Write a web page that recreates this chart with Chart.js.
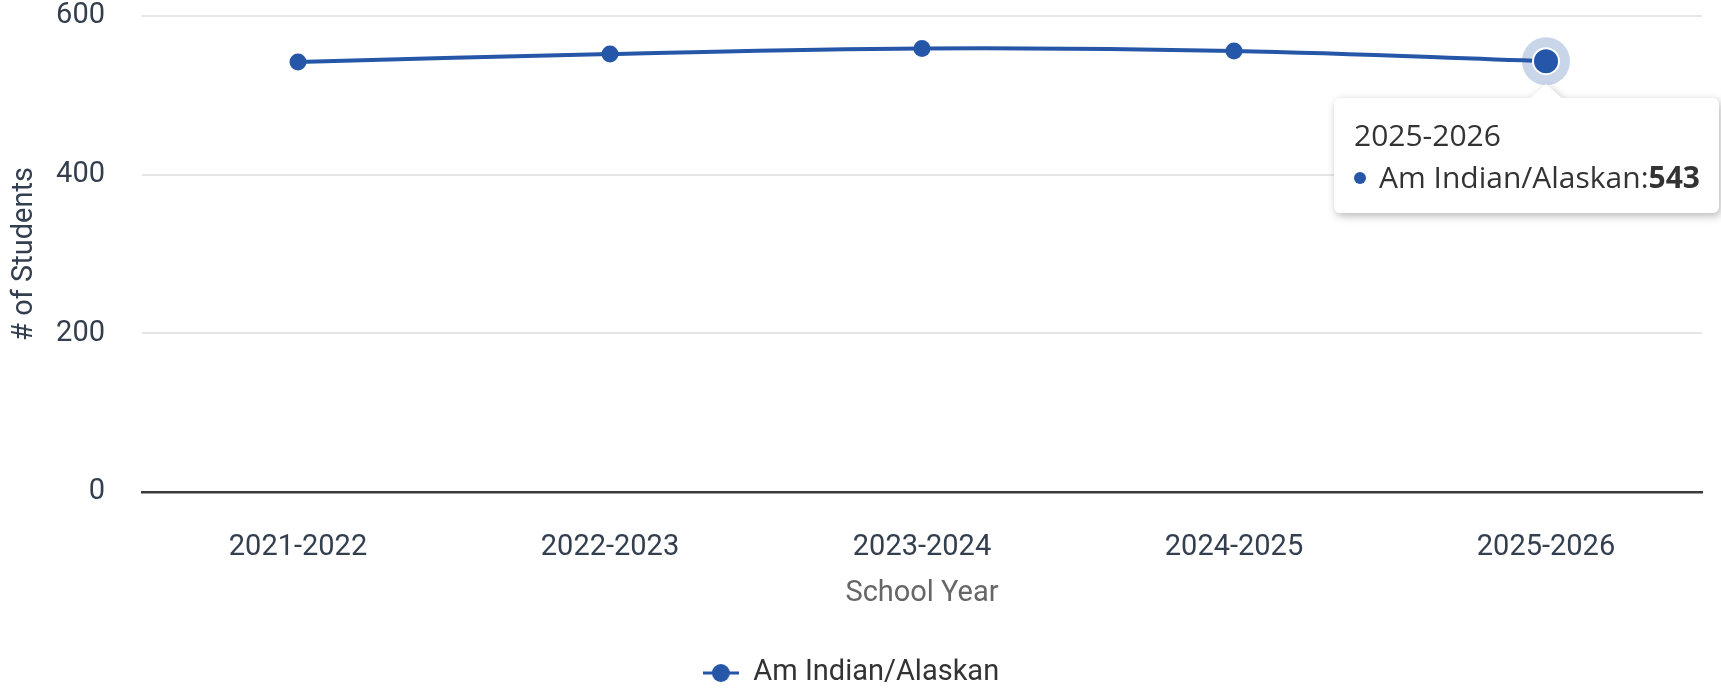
<!DOCTYPE html>
<html>
<head>
<meta charset="utf-8">
<title>Am Indian/Alaskan students by school year</title>
<script src="https://cdn.jsdelivr.net/npm/chart.js@4.4.1/dist/chart.umd.min.js"></script>
<style>
  html, body { margin: 0; padding: 0; background: #fff; overflow: hidden; }
  .chart-container { position: relative; width: 1721px; height: 688px; }
  #tip {
    position: absolute;
    pointer-events: none;
    opacity: 0;
    filter: drop-shadow(2px 3px 4px rgba(0, 0, 0, 0.28));
  }
  #tip .box {
    position: relative;
    background: #fff;
    border-radius: 6px;
    padding: 16px 19px 15px 20px;
    font-family: "Open Sans", sans-serif;
    font-size: 30px;
    line-height: 42px;
    color: #333;
    white-space: nowrap;
  }
  #tip .caret {
    position: absolute;
    top: -14px;
    width: 0;
    height: 0;
    border-left: 16px solid transparent;
    border-right: 16px solid transparent;
    border-bottom: 14px solid #fff;
  }
  #tip .dot {
    display: inline-block;
    width: 12px;
    height: 12px;
    border-radius: 50%;
    margin: 0 13px 4px 0;
    vertical-align: middle;
  }
</style>
</head>
<body>
<div class="chart-container">
  <canvas id="chart"></canvas>
  <div id="tip"></div>
</div>
<script>
const schoolYears = ["2021-2022", "2022-2023", "2023-2024", "2024-2025", "2025-2026"];
const amIndianAlaskan = [542, 552, 559, 556, 543];
const seriesName = "Am Indian/Alaskan";
const yMin = 0;
const yMax = 600;
const yStep = 200;

const blue = "#2656a8";
const tickColor = "#333f4e";

Chart.defaults.font.family = "Roboto, sans-serif";

// legend symbol: short line with a dot on it
const legendSymbol = document.createElement("canvas");
legendSymbol.width = 36;
legendSymbol.height = 20;
{
  const c = legendSymbol.getContext("2d");
  c.strokeStyle = blue;
  c.lineWidth = 3;
  c.beginPath();
  c.moveTo(0, 10);
  c.lineTo(36, 10);
  c.stroke();
  c.fillStyle = blue;
  c.beginPath();
  c.arc(18, 10, 9, 0, Math.PI * 2);
  c.fill();
}

const haloPlugin = {
  id: "halo",
  beforeDatasetsDraw(chart) {
    const ctx = chart.ctx;
    chart.getActiveElements().forEach((a) => {
      ctx.save();
      ctx.beginPath();
      ctx.arc(a.element.x, a.element.y, 24, 0, Math.PI * 2);
      ctx.fillStyle = "rgba(38, 86, 168, 0.25)";
      ctx.fill();
      ctx.restore();
    });
  },
};

function externalTooltip(context) {
  const { chart, tooltip } = context;
  const el = document.getElementById("tip");
  if (tooltip.opacity === 0 || !tooltip.dataPoints || !tooltip.dataPoints.length) {
    el.style.opacity = 0;
    return;
  }
  const dp = tooltip.dataPoints[0];
  el.innerHTML =
    '<div class="caret"></div>' +
    '<div class="box"><div>' + dp.label + '</div>' +
    '<div><span class="dot" style="background:' + blue + '"></span>' +
    dp.dataset.label + ':<b>' + dp.raw + '</b></div></div>';
  const w = el.offsetWidth;
  const tipX = tooltip.caretX;
  const tipY = tooltip.caretY + 24;
  let left = tipX - w / 2;
  left = Math.min(left, chart.width - w - 2);
  left = Math.max(left, 2);
  el.style.left = left + "px";
  el.style.top = tipY + 13 + "px";
  el.querySelector(".caret").style.left = tipX - left - 16 + "px";
  el.style.opacity = 1;
}

const chart = new Chart(document.getElementById("chart").getContext("2d"), {
  type: "line",
  data: {
    labels: schoolYears,
    datasets: [
      {
        label: seriesName,
        data: amIndianAlaskan,
        borderColor: blue,
        backgroundColor: blue,
        borderWidth: 4,
        tension: 0.4,
        fill: false,
        pointRadius: 8.5,
        pointBorderWidth: 0,
        pointBackgroundColor: blue,
        pointHoverRadius: 13,
        pointHoverBorderWidth: 2,
        pointHoverBorderColor: "#ffffff",
        pointHoverBackgroundColor: blue,
      },
    ],
  },
  options: {
    responsive: true,
    maintainAspectRatio: false,
    animation: false,
    events: [],
    layout: {
      padding: { top: 16, right: 19, bottom: -9.5, left: 0 },
    },
    plugins: {
      legend: {
        position: "bottom",
        labels: {
          usePointStyle: true,
          pointStyle: legendSymbol,
          pointStyleWidth: 36,
          padding: 0,
          color: "#333",
          font: { size: 29 },
        },
      },
      tooltip: {
        enabled: false,
        external: externalTooltip,
        mode: "index",
        intersect: false,
      },
    },
    scales: {
      x: {
        offset: true,
        grid: { display: false, drawTicks: false },
        border: { display: true, color: "#3a3a3a", width: 2.5 },
        ticks: { color: tickColor, font: { size: 29 }, padding: 38.5 },
        title: {
          display: true,
          text: "School Year",
          color: "#666",
          font: { size: 29 },
          padding: { top: 0, bottom: 47 },
        },
        afterFit(scale) {
          scale.height = 166.5;
        },
      },
      y: {
        min: yMin,
        max: yMax,
        grid: {
          drawTicks: false,
          color: (c) => (c.tick && c.tick.value === 0 ? "rgba(0,0,0,0)" : "#e6e6e6"),
          lineWidth: 2,
        },
        border: { display: false },
        ticks: { stepSize: yStep, color: tickColor, font: { size: 29 }, padding: 37 },
        title: {
          display: true,
          text: "# of Students",
          color: tickColor,
          font: { size: 29 },
          padding: { top: 7, bottom: 0 },
        },
        afterFit(scale) {
          scale.width = 142;
          scale.paddingTop = 0;
          scale.paddingBottom = 0;
        },
      },
    },
  },
  plugins: [haloPlugin],
});

const active = [{ datasetIndex: 0, index: schoolYears.length - 1 }];
chart.setActiveElements(active);
chart.tooltip.setActiveElements(active, { x: 0, y: 0 });
chart.update();
</script>
</body>
</html>
